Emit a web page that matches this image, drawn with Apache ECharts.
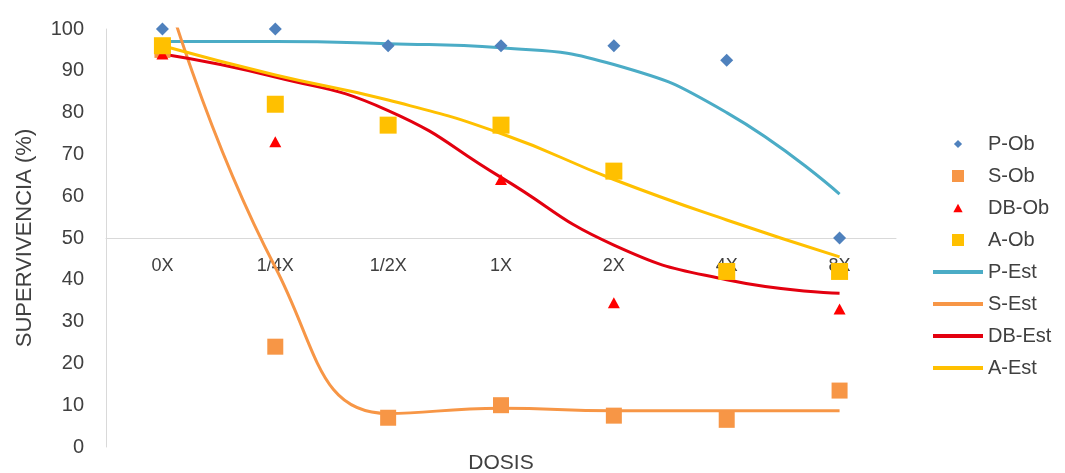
<!DOCTYPE html>
<html>
<head>
<meta charset="utf-8">
<script src="https://cdn.jsdelivr.net/npm/echarts@6/dist/echarts.min.js"></script>
<style>
html,body{margin:0;padding:0;background:#fff;}
#chart{width:1065px;height:473px;}
</style>
</head>
<body>
<div id="chart"></div>
<script>
// Categories (dose)
var categories = ['0X', '1/4X', '1/2X', '1X', '2X', '4X', '8X'];
var yTicks = [0, 10, 20, 30, 40, 50, 60, 70, 80, 90, 100];

// Observed survival (%)
var pOb  = [100, 100, 96, 96, 96, 92.5, 50];
var sOb  = [95, 24, 7, 10, 7.5, 6.5, 13.5];
var dbOb = [94, 73, 77, 64, 34.5, 41.5, 33];
var aOb  = [96, 82, 77, 77, 66, 42, 42];

// Estimated survival (%)
var pEst  = [97, 97, 96.5, 95.5, 91.5, 80, 60.5];
var sEst  = [112, 43, 8, 9.3, 8.7, 8.7, 8.7];
var dbEst = [94, 88.5, 80.5, 64.5, 48.3, 40, 36.8];
var aEst  = [96, 89, 83, 75, 64, 54.3, 45.5];

var FONT = "'Liberation Sans', Arial, sans-serif";
var TXT = '#404040';
var AXIS = '#D9D9D9';

var ICON_DIAMOND  = 'path://M-8,-8M8,8M0,-5L5,0L0,5L-5,0Z';
var ICON_SQUARE   = 'path://M-6.5,-6.5M6.5,6.5M-6,-6L6,-6L6,6L-6,6Z';
var ICON_TRIANGLE = 'path://M-7,-7M7,7M0,-4.5L5,4.5L-5,4.5Z';
var ICON_LINE     = 'path://M0,-6.5M50,6.5M0,-2L50,-2L50,2L0,2Z';

var chart = echarts.init(document.getElementById('chart'));

function lineSeries(name, data, color, z) {
  return {
    name: name, type: 'line', data: data, smooth: 0.5,
    symbol: 'none', clip: true, z: z,
    lineStyle: { color: color, width: 3 },
    itemStyle: { color: color }
  };
}
function scatterSeries(name, data, symbol, size, color, z) {
  return {
    name: name, type: 'scatter', data: data, symbol: symbol,
    symbolSize: size, z: z,
    itemStyle: { color: color, opacity: 1 }
  };
}

chart.setOption({
  backgroundColor: '#fff',
  animation: false,
  grid: { left: 106, right: 169, top: 29, bottom: 26, containLabel: false, outerBoundsMode: 'none' },
  legend: {
    orient: 'vertical', left: 928, top: 129,
    itemWidth: 50, itemHeight: 13, itemGap: 12, symbolKeepAspect: true,
    textStyle: { fontFamily: FONT, fontSize: 20, lineHeight: 20, color: TXT },
    data: [
      { name: 'P-Ob', icon: ICON_DIAMOND },
      { name: 'S-Ob', icon: ICON_SQUARE },
      { name: 'DB-Ob', icon: ICON_TRIANGLE },
      { name: 'A-Ob', icon: ICON_SQUARE },
      { name: 'P-Est', icon: ICON_LINE },
      { name: 'S-Est', icon: ICON_LINE },
      { name: 'DB-Est', icon: ICON_LINE },
      { name: 'A-Est', icon: ICON_LINE }
    ]
  },
  xAxis: {
    type: 'category', data: categories, boundaryGap: true,
    position: 'bottom', offset: -209,
    axisLine: { show: true, lineStyle: { color: AXIS, width: 1 } },
    axisTick: { show: false },
    axisLabel: { margin: 19, fontFamily: FONT, fontSize: 18, color: TXT },
    splitLine: { show: false },
    name: 'DOSIS', nameLocation: 'middle', nameGap: 215,
    nameTextStyle: { fontFamily: FONT, fontSize: 21, color: TXT }
  },
  yAxis: {
    type: 'value', min: 0, max: 100, interval: 10,
    axisLine: { show: true, lineStyle: { color: AXIS, width: 1 } },
    axisTick: { show: false },
    splitLine: { show: false },
    axisLabel: {
      margin: 22, fontFamily: FONT, fontSize: 20, color: TXT,
      formatter: function (v) { return yTicks.indexOf(v) >= 0 ? String(v) : ''; }
    },
    name: 'SUPERVIVENCIA (%)', nameLocation: 'middle', nameGap: 70, nameRotate: 90,
    nameTextStyle: { fontFamily: FONT, fontSize: 22, color: TXT }
  },
  series: [
    lineSeries('P-Est', pEst, '#4BACC6', 2),
    lineSeries('S-Est', sEst, '#F79646', 2),
    lineSeries('DB-Est', dbEst, '#E3000F', 2),
    lineSeries('A-Est', aEst, '#FFC000', 2),
    scatterSeries('P-Ob', pOb, 'diamond', 13, '#4F81BD', 3),
    scatterSeries('S-Ob', sOb, 'rect', 16, '#F79646', 3),
    scatterSeries('DB-Ob', dbOb, 'triangle', [12, 11], '#FF0000', 3),
    scatterSeries('A-Ob', aOb, 'rect', 17, '#FFC000', 3)
  ]
});
</script>
</body>
</html>
